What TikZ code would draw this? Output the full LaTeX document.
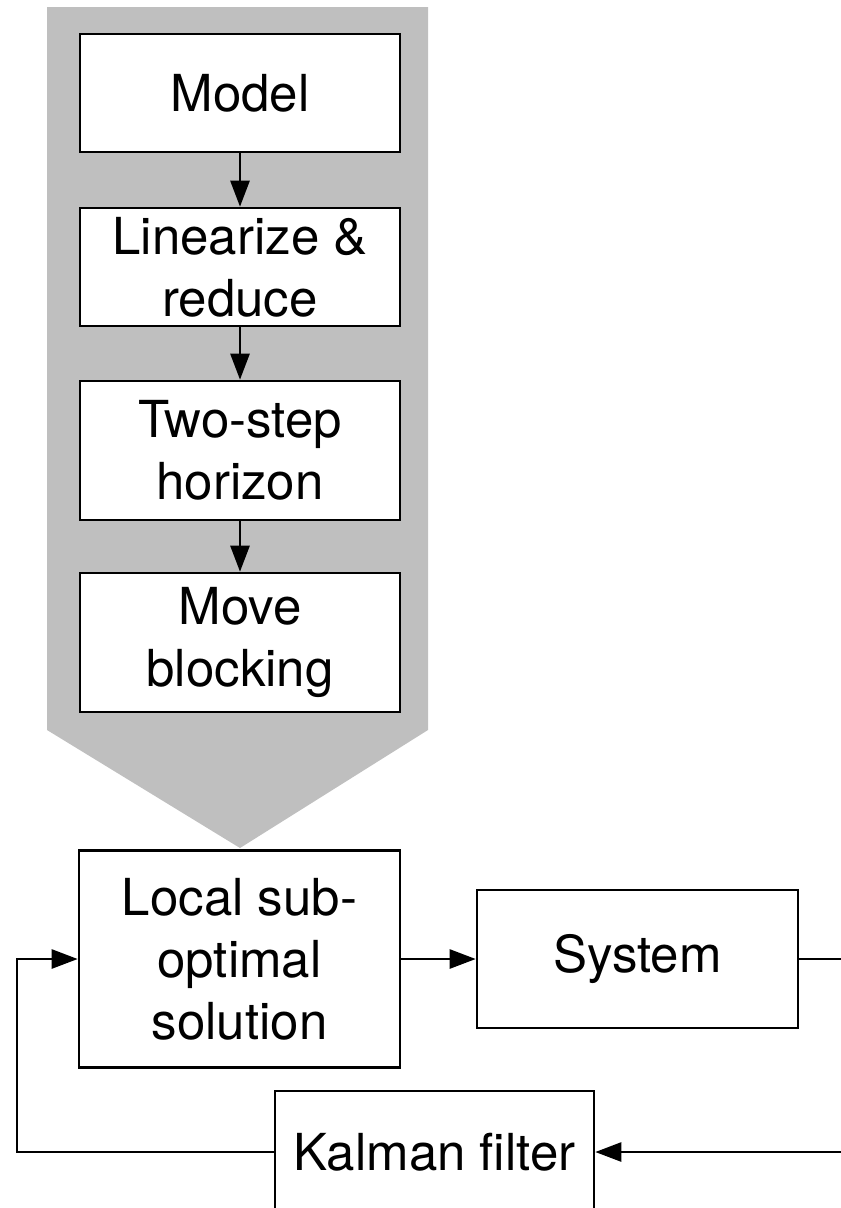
\documentclass[tikz,border=0pt]{standalone}
\usepackage{fontspec}
\setmainfont{TeX Gyre Heros}
\usetikzlibrary{arrows.meta}
\definecolor{funnelgray}{HTML}{BFBFBF}
\tikzset{
	block/.style={draw, line width=2.6pt, fill=white, inner sep=0pt,
		minimum width=320pt, align=center, font=\fontsize{51}{62}\selectfont},
	flow/.style={line width=2.6pt, -{Triangle[length=26pt,width=19pt]}},
}

\begin{document}
\begin{tikzpicture}[x=1pt,y=-1pt]
	\useasboundingbox (0,0) rectangle (841,1208);
	\clip (0,0) rectangle (841,1208);
	% funnel behind the design steps
	\fill[funnelgray] (47,7) -- (428,7) -- (428,730) -- (240,848) -- (47,730) -- cycle;
	% design steps
	\node[block, minimum height=118pt] (model) at (240,93) {Model};
	\node[block, minimum height=118pt] (linred) at (240,267) {Linearize \&\\reduce};
	\node[block, minimum height=139pt] (twostep) at (240,450.5) {Two-step\\horizon};
	\node[block, minimum height=139pt] (moveblk) at (240,642.5) {Move\\blocking};
	\foreach \a/\b in {model/linred,linred/twostep,twostep/moveblk}{
		\draw[flow] (\a) -- (\b);}
	% control loop
	\node[block, minimum width=321pt, minimum height=217pt] (local) at (239.5,959) {Local sub-\\optimal\\solution};
	\node[block, minimum width=321pt, minimum height=138pt] (system) at (637.5,959) {System};
	\node[block, minimum width=319pt, minimum height=122pt] (kalman) at (434.5,1152) {Kalman filter};
	\coordinate (sysout) at (880,959);
	\coordinate (fbleft) at (17,1152);
	\draw[flow] (local) -- (system);
	\draw[flow] (system.east) -- (sysout) |- (kalman.east);
	\draw[flow] (kalman.west) -- (fbleft) |- (local.west);
\end{tikzpicture}
\end{document}
